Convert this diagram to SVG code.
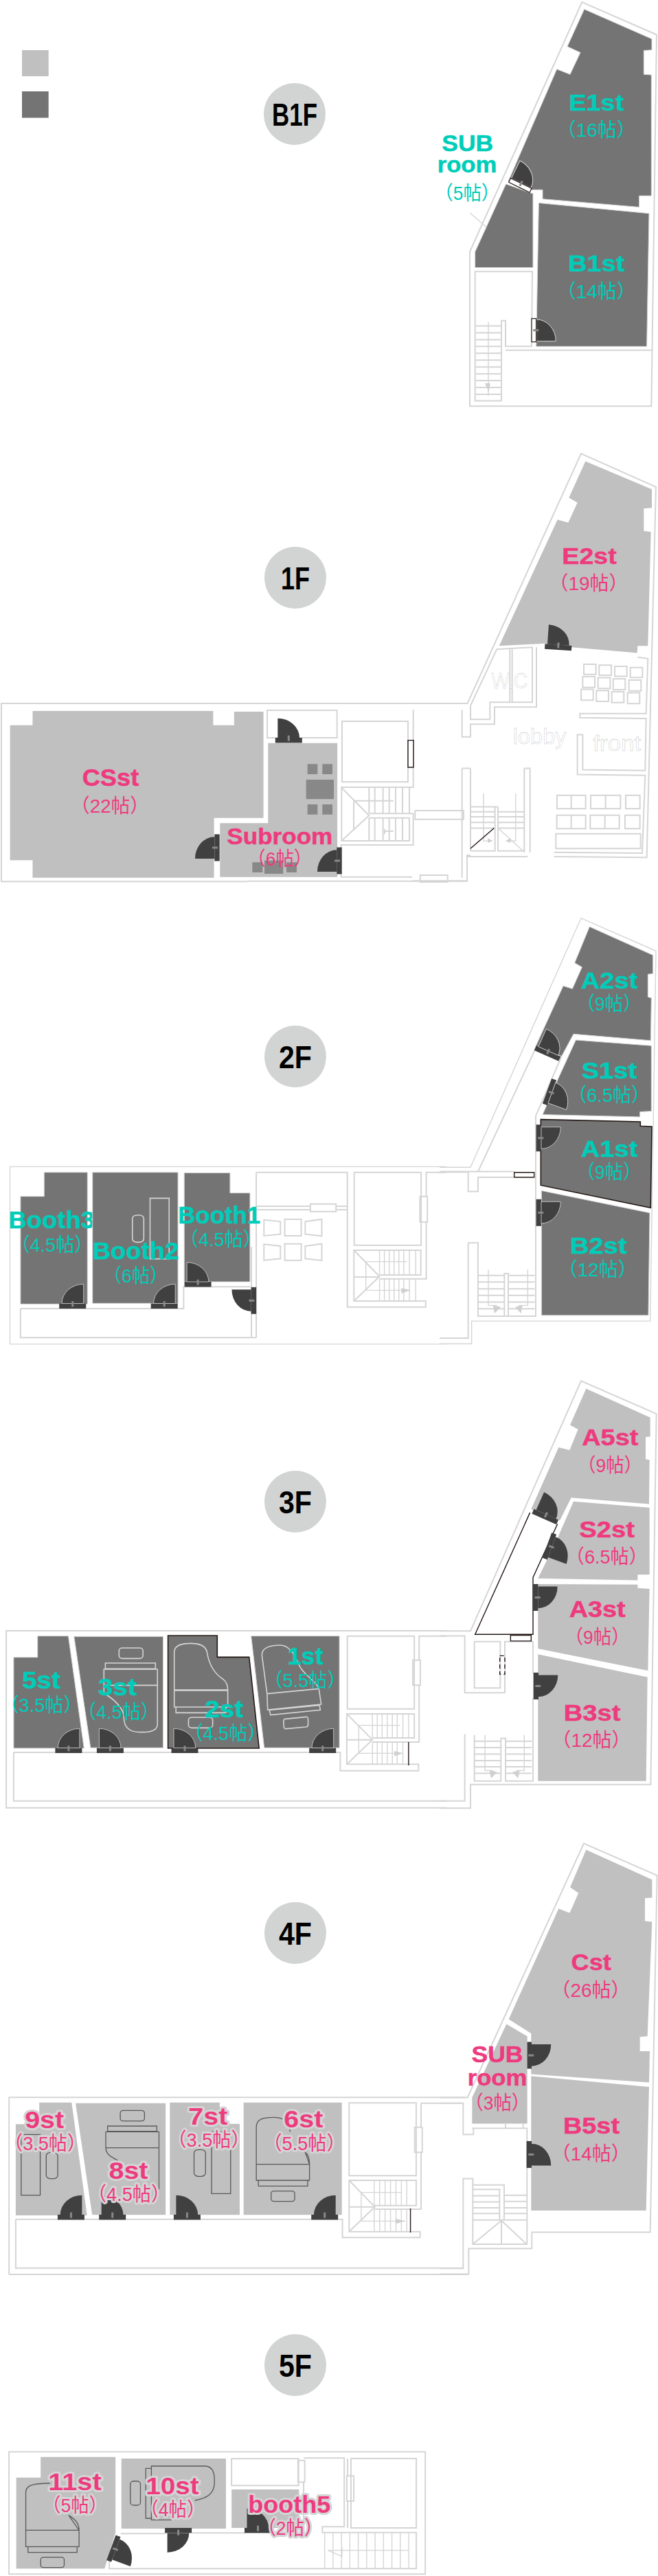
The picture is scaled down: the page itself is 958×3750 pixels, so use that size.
<svg xmlns="http://www.w3.org/2000/svg" width="958" height="3750" viewBox="0 0 958 3750">
<style>
.z1{transform:translate(600px,0px) scale(.33333,.38265)}
.z3{transform:translate(600px,650px) scale(.33333,.41454)}
.z4{transform:translate(0px,1000px) scale(.39541,.33333)}
.z5{transform:translate(640px,1320px) scale(.33333,.41454)}
.z6{transform:translate(0px,1680px) scale(.41454,.33333)}
.z7{transform:translate(640px,2000px) scale(.33333,.41454)}
.z8{transform:translate(0px,2350px) scale(.41454,.33333)}
.z9{transform:translate(640px,2670px) scale(.33333,.41454)}
.z10{transform:translate(0px,3020px) scale(.44005,.33333)}
.z11{transform:translate(0px,3540px) scale(.40816,.33333)}
.z12{transform:translate(360px,950px) scale(.33333,.33333)}
.w,.wt,.f,.g,.k,.kw{vector-effect:non-scaling-stroke}
.w{fill:none;stroke:#d5d5d5;stroke-width:2}
.wt{fill:none;stroke:#d5d5d5;stroke-width:1.4}
.L{fill:#c0c0c0}
.D{fill:#747474;stroke:#d5d5d5;stroke-width:1;vector-effect:non-scaling-stroke}
.F{fill:#747474;stroke:#231815;stroke-width:1.6;vector-effect:non-scaling-stroke}
.f{fill:none;stroke:#d5d5d5;stroke-width:1.6}
.g{fill:none;stroke:#595959;stroke-width:1.3}
.c{fill:#888}
.k{fill:none;stroke:#231815;stroke-width:1.4}
.kw{fill:#fff;stroke:#231815;stroke-width:1.4}
.a{fill:#d0d0d0}
text{font-family:"Liberation Sans","Noto Sans CJK JP",sans-serif;text-anchor:middle}
.b{font-weight:700;font-size:33px}
.bn{font-weight:700;font-size:35px}
.s{font-size:28px}
.P{fill:#ee3a7e}
.T{fill:#00cdb9}
.b.P,.bn.P{stroke:#ee3a7e;stroke-width:.5px}
.b.T,.bn.T{stroke:#00cdb9;stroke-width:.5px}
.H.H.H{stroke:#d4d4d4;stroke-width:6px;paint-order:stroke;stroke-linejoin:round}
.fl{fill:#d2d4d3}
.ft{font-weight:700;font-size:47px;fill:#000}
.thin{font-size:31px;fill:#fff;stroke:#b8b8b8;stroke-width:.35px}
</style>
<defs>
<g id="door"><rect x="-19.5" y="-3.7" width="39" height="7.4" fill="#404040"/><path d="M-16,-3.7V-32A31.7,28.3 0 0 1 15.7,-3.7Z" fill="#404040"/><rect x="-1.5" y="-7" width="3" height="8" fill="#888"/></g>
<g id="doorD"><rect x="-19.5" y="-3.7" width="39" height="7.4" fill="#404040"/><path d="M-16,-3.7V-32A31.7,28.3 0 0 1 15.7,-3.7Z" fill="#404040" stroke="#d5d5d5" stroke-width=".8"/><rect x="-1.5" y="-7" width="3" height="8" fill="#888"/></g>
<g id="doorW"><path d="M-16,-3.7V-32A31.7,28.3 0 0 1 15.7,-3.7Z" fill="#404040" stroke="#d5d5d5" stroke-width="1"/><rect x="-17" y="-3.3" width="34" height="6.6" fill="#fff" stroke="#231815" stroke-width="1.2"/><rect x="-1.5" y="-7" width="3" height="8" fill="#888"/></g>
</defs>
<rect width="958" height="3750" fill="#fff"/>

<g id="legend"><rect x="32" y="73" width="38.7" height="38" class="L"/><rect x="32" y="133" width="38.7" height="38.5" fill="#747474"/></g>

<g id="floor-b1">
<circle cx="429" cy="166" r="45" class="fl"/><text x="429" y="183" class="ft" textLength="66" lengthAdjust="spacingAndGlyphs">B1F</text>
<g id="walls-b1">
<polygon class="w z1" points="742,8 1068,132 1045,1545 252,1545 252,958"/>
<polygon class="w z1" points="275,1033 525,1033 522,1318 408,1318 408,1220 390,1220 390,1525 275,1525"/>
<path class="w z1" d="M408,1332H1047M278,1240H388M278,1266H388M278,1292H388M278,1318H388M278,1344H388M278,1370H388M278,1396H388M278,1422H388M278,1448H388M278,1474H388M278,1500H388"/>
<path class="wt z1" d="M333,1225V1505M253,810L425,940"/>
<polygon class="a z1" points="318,1458 342,1458 334,1490"/>
</g>
<g id="E1st"><polygon class="D z1" points="752,35 1047,148 1047,190 1012,192 1012,283 1045,285 1045,745 992,745 992,788 570,757 570,722 522,722 420,690 632,263 690,283 735,200 678,177"/><text x="868.3" y="160.7" class="b T" textLength="80" lengthAdjust="spacingAndGlyphs">E1st</text><text x="868.3" y="199" class="s T" textLength="115" lengthAdjust="spacingAndGlyphs">（16帖）</text></g>
<g id="SUBroom-b1"><polygon class="D z1" points="410,700 520,735 528,735 528,1018 275,1018 275,958"/><use href="#doorW" transform="translate(757.3 269.8) rotate(26)"/><text x="680.7" y="220" class="b T" textLength="75" lengthAdjust="spacingAndGlyphs">SUB</text><text x="680" y="250.7" class="b T" textLength="86.7" lengthAdjust="spacingAndGlyphs">room</text><text x="680.3" y="290.8" class="s T" textLength="94" lengthAdjust="spacingAndGlyphs">（5帖）</text></g>
<g id="B1st"><polygon class="D z1" points="553,772 1035,812 1025,1318 542,1318"/><use href="#doorW" transform="translate(777.3 480.7) rotate(90) scale(-1 1)"/><text x="868.3" y="395" class="b T" textLength="82" lengthAdjust="spacingAndGlyphs">B1st</text><text x="868.3" y="434.4" class="s T" textLength="115" lengthAdjust="spacingAndGlyphs">（14帖）</text></g>
</g>

<g id="floor-1">
<circle cx="430" cy="841" r="45" class="fl"/><text x="430" y="858" class="ft" textLength="42" lengthAdjust="spacingAndGlyphs">1F</text>
<g id="walls-1">
<polyline class="w z3" points="240,905 738,25 1065,142 1025,1443 620,1440"/>
<path class="w z3" d="M505,1440H245V1437M240,1437V1525H0"/>
<polyline class="w z3" points="543,705 543,915 360,915 360,975 255,975 255,1020 218,1020 218,925"/>
<polygon class="w z3" points="255,910 370,712 525,705 525,898 340,898 340,958 255,958"/>
<path class="w z3" d="M427,712V898M437,712V898"/>
<polyline class="w z3" points="985,740 1030,745 1022,938 733,938 733,952 1022,955 1018,1138 745,1135 745,1012 722,1012 722,1152 1018,1155 1005,1428 620,1425"/>
<g class="seats"><path class="w z3" d="M750,765h53v35h-53zM817,768h53v35h-53zM885,772h53v35h-53zM953,776h53v35h-53zM745,808h53v38h-53zM812,812h53v38h-53zM878,816h53v38h-53zM947,820h53v38h-53zM738,853h53v38h-53zM805,857h53v38h-53zM872,861h53v38h-53zM941,865h53v38h-53z"/>
<path class="w z3" d="M633,1225h125v47h-125zM695,1225v47M780,1225h130v47h-130zM845,1225v47M933,1225h62v47h-62zM632,1295h126v47h-126zM695,1295v47M778,1295h127v47h-127zM842,1295v47M930,1295h65v47h-65zM628,1360h370v52h-370z"/></g>
<path class="w z3" d="M255,1130V1420M218,1130H255M218,1130V1515M490,1130H515V1425M490,1130V1425M255,1265H362M255,1283H362M255,1300H362M255,1320H362M255,1340H362M362,1265V1420H255M375,1265V1420H490M375,1283H488M375,1300H488M375,1320H488M375,1340H488M362,1265H375"/>
<path class="wt z3" d="M312,1218V1385H350M452,1218V1385H420M375,1340L485,1420"/>
<path class="a z3" d="M330,1375L352,1385L330,1392ZM430,1375L408,1385L430,1392Z"/>
<path class="k z3" d="M255,1412L358,1340"/>
<polyline class="w z4" points="910,72 5,72 5,850 910,850"/>
<path class="w z12" d="M0,222H960M0,998H960V885H975"/>
<rect class="w z12" x="87" y="252" width="305" height="120"/>
<rect class="w z12" x="414" y="300" width="288" height="265"/>
<path class="w z12" d="M725,250V588H412V822H708V722H532M412,590L532,712L412,822M465,650V770M725,703H532M725,703V840H410V980H720M708,590V700M532,590V703M557,590V703M593,590V703M620,590V703M648,590V703M678,590V703M532,722V822M557,722V822M593,722V822M620,722V822M648,722V822M678,722V822M465,647H638M600,780H638M600,770V793"/>
<rect class="w z12" x="755" y="972" width="120" height="30"/>
<rect class="w z12" x="733" y="690" width="212" height="38"/>
<rect class="kw z12" x="702" y="383" width="24" height="118"/>
<text x="741.7" y="1001.6" class="thin" textLength="53" lengthAdjust="spacingAndGlyphs">W.C</text>
<text x="785.7" y="1083.2" class="thin" textLength="78" lengthAdjust="spacingAndGlyphs">lobby</text>
<text x="898.3" y="1092.8" class="thin" textLength="70" lengthAdjust="spacingAndGlyphs">front</text>
</g>
<g id="E2st"><polygon class="L z3" points="757,52 1047,150 1047,215 1012,218 1012,297 1043,300 1030,700 985,700 983,725 697,705 580,692 380,700 635,257 682,267 722,197 685,180"/><use href="#door" transform="translate(812.7 942.3) rotate(4)"/><text x="858" y="820.8" class="b P" textLength="79.3" lengthAdjust="spacingAndGlyphs">E2st</text><text x="857" y="859.4" class="s P" textLength="115" lengthAdjust="spacingAndGlyphs">（19帖）</text></g>
<g id="CSst"><polygon class="L z4" points="120,105 785,105 785,167 862,167 862,108 970,108 970,572 788,572 788,833 120,833 120,757 37,757 37,167 120,167"/><use href="#door" transform="translate(316 1234) rotate(-90)"/><text x="161" y="1144" class="bn P" textLength="82.6" lengthAdjust="spacingAndGlyphs">CSst</text><text x="160" y="1182.7" class="s P" textLength="114" lengthAdjust="spacingAndGlyphs">（22帖）</text></g>
<g id="Subroom"><polygon class="L z4" points="987,245 1242,245 1242,830 810,830 810,595 987,595"/><path class="c z12" d="M263,487h44v44h-44zM328,487h44v44h-44zM257,555h121v85h-121zM263,663h44v44h-44zM328,663h44v44h-44zM22,916h45v44h-45zM75,908h82v58h-82zM171,916h45v44h-45z"/><use href="#door" transform="translate(420.3 1077.7)"/><use href="#door" transform="translate(494 1253) rotate(-90)"/><text x="407.3" y="1229.3" class="b P" textLength="154" lengthAdjust="spacingAndGlyphs">Subroom</text><text x="407.3" y="1260" class="s P" textLength="94" lengthAdjust="spacingAndGlyphs">（6帖）</text></g>
</g>

<g id="floor-2">
<circle cx="430" cy="1538" r="45" class="fl"/><text x="430" y="1555" class="ft" textLength="48" lengthAdjust="spacingAndGlyphs">2F</text>
<g id="walls-2">
<polyline class="wt z5" points="0,915 135,915 618,40 945,155 920,1455 140,1455 140,1535 0,1535"/>
<path class="w z5" d="M415,505L168,930H0M533,525L420,735V1440M0,932H125V1000H168V950H325M168,930H325M413,950H420M125,1180H168V1440M125,1180V1515H0M168,1438H420M283,1438V1288H300V1438"/>
<path class="w z5" d="M168,1295H283M168,1318H283M168,1342H283M168,1365H283M168,1388H283M168,1412H283M300,1295H415M300,1318H415M300,1342H415M300,1365H415M300,1388H415M300,1412H415"/>
<path class="wt z5" d="M213,1275V1400H250M385,1275V1400H345"/>
<path class="a z5" d="M233,1400L268,1405L240,1428ZM362,1400L330,1405L355,1428Z"/>
<rect class="kw z5" x="326" y="933" width="87" height="17"/>
<polyline class="wt z6" points="1568,55 35,55 35,830 1568,830"/>
<path class="w z6" d="M72,675H645V580H880M72,675V802H900M900,80H1220V668H1495V642H1243V420H1478V528H1333M900,80V802M883,405V800M900,228H1090M900,243H1090M1180,228H1218M1180,243H1218M1243,420L1333,535L1243,642M1243,537H1333M1568,80H1497V185M1497,297V545H1333"/>
<rect class="w z6" x="1090" y="218" width="90" height="33"/>
<rect class="w z6" x="1244" y="80" width="235" height="318"/>
<rect class="w z6" x="1475" y="185" width="26" height="112"/>
<path class="w z6" d="M927,287L985,295V350L927,357ZM1000,285H1058V357H1000ZM1072,295L1130,285V358L1072,350ZM927,394L985,402V457L927,464ZM1000,392H1058V464H1000ZM1072,402L1130,392V465L1072,457Z"/>
<path class="wt z6" d="M1333,420V528M1350,420V528M1367,420V528M1384,420V528M1401,420V528M1418,420V528M1438,420V528M1460,420V528M1333,545V642M1350,545V642M1367,545V642M1384,545V642M1401,545V642M1418,545V642M1438,545V642M1460,545V642M1285,470H1430M1285,470V595H1440"/>
<path class="a z6" d="M1410,585L1442,595L1410,608Z"/>
</g>
<g id="A2st"><polygon class="D z5" points="655,70 932,170 932,235 910,237 910,317 925,320 922,470 585,447 533,525 420,490 540,278 580,288 622,212 590,197"/><use href="#doorD" transform="translate(797 1533.5) rotate(24)"/><text x="887" y="1439" class="b T" textLength="82.7" lengthAdjust="spacingAndGlyphs">A2st</text><text x="886.7" y="1471.3" class="s T" textLength="94" lengthAdjust="spacingAndGlyphs">（9帖）</text></g>
<g id="S1st"><polygon class="D z5" points="595,468 925,488 925,718 875,720 875,738 450,730 520,600"/><use href="#doorD" transform="translate(800 1589.5) rotate(110) scale(-1 1)"/><text x="887" y="1570" class="b T" textLength="80.7" lengthAdjust="spacingAndGlyphs">S1st</text><text x="886.7" y="1604" class="s T" textLength="119" lengthAdjust="spacingAndGlyphs">（6.5帖）</text></g>
<g id="A1st"><polygon class="F z5" points="442,747 877,755 877,770 927,772 922,1057 442,978"/><use href="#doorD" transform="translate(784.3 1656.7) rotate(90)"/><text x="887" y="1683.6" class="b T" textLength="82.7" lengthAdjust="spacingAndGlyphs">A1st</text><text x="886.7" y="1715.9" class="s T" textLength="94" lengthAdjust="spacingAndGlyphs">（9帖）</text></g>
<g id="B2st"><polygon class="D z5" points="445,997 918,1075 912,1435 445,1435"/><use href="#doorD" transform="translate(784.3 1765.3) rotate(90)"/><text x="871.3" y="1824.5" class="b T" textLength="82.7" lengthAdjust="spacingAndGlyphs">B2st</text><text x="870.3" y="1857.7" class="s T" textLength="115" lengthAdjust="spacingAndGlyphs">（12帖）</text></g>
<g id="Booth3"><polygon class="D z6" points="155,80 307,80 307,655 72,655 72,185 155,185"/><use href="#doorD" transform="translate(105.7 1901.3) scale(-1 1)"/><text x="75.2" y="1788.3" class="bn T" textLength="125.6" lengthAdjust="spacingAndGlyphs">Booth3</text><text x="75.9" y="1821.7" class="s T" textLength="119" lengthAdjust="spacingAndGlyphs">（4.5帖）</text></g>
<g id="Booth2"><polygon class="D z6" points="325,80 625,80 625,652 325,652"/><rect class="f z6" x="527" y="193" width="67" height="265"/><rect class="f z6" x="465" y="267" width="40" height="118" rx="15"/><use href="#doorD" transform="translate(239.2 1901.3) scale(-1 1)"/><text x="197.5" y="1833.3" class="bn T" textLength="125.6" lengthAdjust="spacingAndGlyphs">Booth2</text><text x="197.5" y="1866.7" class="s T" textLength="94" lengthAdjust="spacingAndGlyphs">（6帖）</text></g>
<g id="Booth1"><polygon class="D z6" points="647,82 808,82 808,170 878,170 878,558 647,558"/><use href="#doorD" transform="translate(288.1 1869.7)"/><use href="#door" transform="translate(369.4 1893.3) rotate(-90) scale(-1 1)"/><text x="319.2" y="1781" class="bn T" textLength="120" lengthAdjust="spacingAndGlyphs">Booth1</text><text x="321.3" y="1814.3" class="s T" textLength="119" lengthAdjust="spacingAndGlyphs">（4.5帖）</text></g>
</g>

<g id="floor-3">
<circle cx="430" cy="2186" r="45" class="fl"/><text x="430" y="2203" class="ft" textLength="48" lengthAdjust="spacingAndGlyphs">3F</text>
<g id="walls-3">
<polyline class="w z7" points="0,903 135,903 618,25 947,140 922,1442 135,1442 135,1525 0,1525"/>
<path class="w z7" d="M0,920H110V1120H285V940H408V1050M408,1140V1430H288V1280H268V1430H152V1268M110,1265V1500H0"/>
<rect class="w z7" x="152" y="940" width="113" height="163"/>
<path class="w z7" d="M152,1290H268M152,1312H268M152,1335H268M152,1358H268M152,1380H268M152,1403H268M288,1290H402M288,1312H402M288,1335H402M288,1358H402M288,1380H402M288,1403H402"/>
<path class="wt z7" d="M198,1268V1393H235M370,1268V1393H335"/>
<path class="a z7" d="M218,1393L252,1398L225,1420ZM350,1393L318,1398L343,1420Z"/>
<polyline class="k z7" points="515,527 408,715 408,915 155,915 395,487"/>
<rect class="kw z7" x="310" y="918" width="90" height="20"/>
<rect class="k z7" x="263" y="990" width="22" height="65" stroke-dasharray="6 4"/>
<polyline class="w z8" points="1568,72 22,72 22,845 1568,845"/>
<path class="w z8" d="M48,603H1195V683H1470V655H1218V435H1455V540H1308M48,603V815H1568M1568,95H1472V200M1472,310V558H1308M1218,435L1308,548L1218,655M1218,548H1308"/>
<rect class="w z8" x="1220" y="95" width="235" height="318"/>
<rect class="w z8" x="1450" y="200" width="26" height="110"/>
<path class="wt z8" d="M1308,435V540M1325,435V540M1342,435V540M1360,435V540M1378,435V540M1395,435V540M1415,435V540M1435,435V540M1308,558V655M1325,558V655M1342,558V655M1360,558V655M1378,558V655M1395,558V655M1415,558V655M1260,485H1405M1260,485V607H1415"/>
<path class="a z8" d="M1385,597L1415,607L1385,620Z"/>
<path class="k z8" d="M1435,558V660"/>
</g>
<g id="A5st"><polygon class="L z7" points="640,52 920,153 920,220 900,222 900,300 917,302 915,457 575,435 525,515 400,475 520,258 568,268 605,195 570,180"/><use href="#door" transform="translate(793.7 2208) rotate(24)"/><text x="888.3" y="2103.6" class="b P" textLength="82" lengthAdjust="spacingAndGlyphs">A5st</text><text x="888" y="2143" class="s P" textLength="94" lengthAdjust="spacingAndGlyphs">（9帖）</text></g>
<g id="S2st"><polygon class="L z7" points="585,448 917,470 917,705 865,705 865,725 430,718 505,595"/><use href="#door" transform="translate(800 2250.8) rotate(110) scale(-1 1)"/><text x="883.7" y="2237.5" class="b P" textLength="80.7" lengthAdjust="spacingAndGlyphs">S2st</text><text x="883.3" y="2275.7" class="s P" textLength="119" lengthAdjust="spacingAndGlyphs">（6.5帖）</text></g>
<g id="A3st"><polygon class="L z7" points="430,738 865,740 865,752 917,755 910,1042 430,965"/><use href="#door" transform="translate(779.7 2325.5) rotate(90)"/><text x="869.7" y="2354.4" class="b P" textLength="82" lengthAdjust="spacingAndGlyphs">A3st</text><text x="869.7" y="2392.6" class="s P" textLength="94" lengthAdjust="spacingAndGlyphs">（9帖）</text></g>
<g id="B3st"><polygon class="L z7" points="430,985 908,1065 902,1430 430,1430"/><use href="#door" transform="translate(780.3 2454.4) rotate(90)"/><text x="862" y="2504.5" class="b P" textLength="82.7" lengthAdjust="spacingAndGlyphs">B3st</text><text x="861" y="2543" class="s P" textLength="115" lengthAdjust="spacingAndGlyphs">（12帖）</text></g>
<g id="r5st"><polygon class="D z8" points="132,95 240,95 295,585 48,585 48,188 132,188"/><use href="#doorD" transform="translate(99.9 2548.3) scale(-1 1)"/><text x="60" y="2458.3" class="bn T" textLength="55.5" lengthAdjust="spacingAndGlyphs">5st</text><text x="60" y="2491.7" class="s T" textLength="119" lengthAdjust="spacingAndGlyphs">（3.5帖）</text></g>
<g id="r3st"><polygon class="D z8" points="260,97 573,97 573,583 318,583"/><rect class="f z8" x="418" y="147" width="84" height="46" rx="12"/><rect class="f z8" x="370" y="213" width="176" height="25"/><path class="f z8" d="M365,240H553V310H365ZM553,310V480C553,505 530,515 500,515C470,515 435,510 435,450C435,410 400,370 365,345V310"/><use href="#doorD" transform="translate(160.4 2548.3)"/><text x="170.8" y="2468.3" class="bn T" textLength="56" lengthAdjust="spacingAndGlyphs">3st</text><text x="172.4" y="2501.7" class="s T" textLength="119" lengthAdjust="spacingAndGlyphs">（4.5帖）</text></g>
<g id="r2st"><polygon class="F z8" points="590,93 763,93 763,187 875,187 910,585 590,585"/><path class="f z8" d="M612,330V165C612,135 640,127 670,127C700,127 722,135 727,165C735,230 760,265 785,285C797,297 800,310 800,330ZM612,333H800V405H612ZM618,405H793V430H618Z"/><rect class="f z8" x="662" y="450" width="85" height="46" rx="12"/><use href="#doorD" transform="translate(269 2548.3)"/><text x="326.2" y="2500" class="bn T" textLength="56" lengthAdjust="spacingAndGlyphs">2st</text><text x="327.9" y="2533.3" class="s T" textLength="119" lengthAdjust="spacingAndGlyphs">（4.5帖）</text></g>
<g id="r1st"><polygon class="D z8" points="882,95 1192,95 1192,583 928,583"/><path class="f z8" d="M938,347L920,180C918,145 950,135 985,135C1020,135 1040,190 1050,220C1060,260 1110,290 1120,325ZM938,347L1120,325L1128,393L940,417ZM946,418L1122,397L1125,418L950,440ZM1002,457L1075,448Q1082,447 1082,460L1082,480Q1083,490 1075,492L1005,500Q997,500 997,490L996,468Q996,458 1002,457Z"/><use href="#doorD" transform="translate(469.7 2548.3) scale(-1 1)"/><text x="444.4" y="2422.7" class="bn T" textLength="52" lengthAdjust="spacingAndGlyphs">1st</text><text x="444" y="2456" class="s T" textLength="119" lengthAdjust="spacingAndGlyphs">（5.5帖）</text></g>
</g>

<g id="floor-4">
<circle cx="430" cy="2814" r="45" class="fl"/><text x="430" y="2831" class="ft" textLength="48" lengthAdjust="spacingAndGlyphs">4F</text>
<g id="walls-4">
<polyline class="w z9" points="0,925 122,925 630,33 950,145 920,1398 403,1398 403,1455 127,1455 127,1545 0,1545"/>
<path class="w z9" d="M0,945H103V1055H148V1033H382V1440H145V1210H103V1525H0M145,1232H282V1355M145,1248H262V1355M145,1270H262M145,1292H262M145,1312H262M145,1332H262M145,1355H380M282,1268H380M282,1290H380M282,1312H380M282,1332H380M270,1355V1440M145,1440L270,1357L380,1440M288,1018V1033M365,1018V1033M142,1033H382"/>
<polyline class="w z10" points="30,873 1550,873"/><polyline class="w z10" points="30,873 30,100 1540,100"/>
<path class="w z10" d="M52,632H1133V712H1390V686H1155V462H1377V572H1238M52,632V845H1533M1393,125H1533M1393,125V230M1393,340V588H1238M1155,462L1240,578L1155,686M1155,578H1238"/>
<rect class="w z10" x="1155" y="124" width="222" height="318"/>
<rect class="w z10" x="1372" y="230" width="25" height="110"/>
<path class="wt z10" d="M1238,462V572M1256,462V572M1274,462V572M1292,462V572M1310,462V572M1328,462V572M1346,462V572M1238,588V686M1256,588V686M1274,588V686M1292,588V686M1310,588V686M1328,588V686M1346,588V686M1195,515H1330M1195,515V640H1340"/>
<path class="a z10" d="M1310,630L1342,640L1310,652Z"/>
<path class="k z10" d="M1358,585V690"/>
</g>
<g id="Cst"><polygon class="L z9" points="640,55 928,160 928,223 897,225 897,305 928,308 908,710 875,712 875,762 918,762 915,872 400,843 400,700 302,650 520,262 568,277 607,207 570,187"/><use href="#door" transform="translate(770.3 2992) rotate(90)"/><text x="860.7" y="2867.7" class="b P" textLength="58.3" lengthAdjust="spacingAndGlyphs">Cst</text><text x="860" y="2907" class="s P" textLength="115" lengthAdjust="spacingAndGlyphs">（26帖）</text></g>
<g id="SUBroom-4"><polygon class="L z9" points="292,667 383,710 383,1017 142,1017 142,925"/><text x="724" y="3001.7" class="b P" textLength="75" lengthAdjust="spacingAndGlyphs">SUB</text><text x="724" y="3035.7" class="b P" textLength="86.7" lengthAdjust="spacingAndGlyphs">room</text><text x="724.3" y="3071.3" class="s P" textLength="94" lengthAdjust="spacingAndGlyphs">（3帖）</text></g>
<g id="B5st"><polygon class="L z9" points="400,850 915,888 902,1322 400,1322"/><use href="#door" transform="translate(770.3 3136.4) rotate(90) scale(-1 1)"/><text x="861" y="3106" class="b P" textLength="82" lengthAdjust="spacingAndGlyphs">B5st</text><text x="860.3" y="3144.7" class="s P" textLength="115" lengthAdjust="spacingAndGlyphs">（14帖）</text></g>
<g id="r9st"><polygon class="L z10" points="130,122 237,122 288,615 52,615 52,217 130,217"/><rect class="g z10" x="70" y="262" width="63" height="265"/><rect class="g z10" x="153" y="340" width="38" height="115" rx="15"/><use href="#door" transform="translate(103.4 3227.7) scale(-1 1)"/><text x="64.7" y="3097.7" class="bn P H" textLength="57" lengthAdjust="spacingAndGlyphs">9st</text><text x="65.6" y="3130" class="s P H" textLength="119" lengthAdjust="spacingAndGlyphs">（3.5帖）</text></g>
<g id="r8st"><polygon class="L z10" points="250,125 548,125 548,613 305,613"/><rect class="g z10" x="398" y="157" width="80" height="46" rx="10"/><rect class="g z10" x="356" y="225" width="163" height="23"/><path class="g z10" d="M350,250H526V320H350ZM526,320V500M350,320C350,345 365,360 390,375"/><use href="#door" transform="translate(163.7 3227.7)"/><text x="187" y="3171.7" class="bn P H" textLength="57" lengthAdjust="spacingAndGlyphs">8st</text><text x="187.5" y="3204.3" class="s P H" textLength="119" lengthAdjust="spacingAndGlyphs">（4.5帖）</text></g>
<g id="r7st"><polygon class="L z10" points="562,122 727,122 727,215 793,215 793,613 562,613"/><rect class="g z10" x="700" y="250" width="63" height="270"/><rect class="g z10" x="642" y="328" width="38" height="117" rx="15"/><use href="#door" transform="translate(272.4 3227.7)"/><text x="302.8" y="3093.3" class="bn P H" textLength="57" lengthAdjust="spacingAndGlyphs">7st</text><text x="304" y="3125" class="s P H" textLength="119" lengthAdjust="spacingAndGlyphs">（3.5帖）</text></g>
<g id="r6st"><polygon class="L z10" points="806,122 1131,122 1131,613 806,613"/><path class="g z10" d="M848,392V230C848,195 870,187 905,187C935,187 955,200 960,250M1010,340C1020,350 1024,365 1024,392ZM848,392H1024V462H848ZM855,462H1018V487H855Z"/><rect class="g z10" x="897" y="509" width="78" height="45" rx="10"/><use href="#door" transform="translate(472.7 3227.7) scale(-1 1)"/><text x="441.8" y="3097.3" class="bn P H" textLength="57" lengthAdjust="spacingAndGlyphs">6st</text><text x="443" y="3130" class="s P H" textLength="119" lengthAdjust="spacingAndGlyphs">（5.5帖）</text></g>
</g>

<g id="floor-5">
<circle cx="430" cy="3443" r="45" class="fl"/><text x="430" y="3460" class="ft" textLength="48" lengthAdjust="spacingAndGlyphs">5F</text>
<g id="walls-5">
<rect class="w z11" x="32" y="88" width="1485" height="534"/>
<path class="w z11" d="M826,118H1065V235H826ZM1083,115H1228V415H1150V440H1485V598H390V500M430,445H590M684,442H875M1065,252V420M1083,220V415M1240,117V193M1240,303V420"/>
<rect class="w z11" x="1252" y="117" width="233" height="303"/>
<rect class="w z11" x="1063" y="125" width="24" height="95"/>
<rect class="w z11" x="1237" y="193" width="25" height="110"/>
<path class="wt z11" d="M1158,440V598M1188,440V598M1218,440V598M1248,440V598M1278,440V598M1308,440V598M1338,440V598M1368,440V598M1398,440V598M1428,440V598M1458,440V598M1170,518H1458"/>
<path class="wt z11" d="M1170,518L1220,545V505"/>
</g>
<g id="r11st"><polygon class="L z11" points="145,110 412,110 412,440 373,598 58,598 58,200 145,200"/><path class="g z11" d="M92,430V265C92,235 115,225 178,225M245,365C270,385 282,400 282,430ZM92,430H282V502H92ZM100,502H275V527H100Z"/><rect class="g z11" x="145" y="548" width="84" height="45" rx="10"/><use href="#door" transform="translate(165.3 3710) rotate(110) scale(-1 1)"/><text x="109" y="3625" class="bn P H" textLength="77.5" lengthAdjust="spacingAndGlyphs">11st</text><text x="109" y="3657.3" class="s P H" textLength="94" lengthAdjust="spacingAndGlyphs">（5帖）</text></g>
<g id="r10st"><rect class="L z11" x="433" y="117" width="373" height="306"/><rect class="g z11" x="465" y="216" width="36" height="105" rx="12"/><path class="g z11" d="M540,160H520V378H540M612,385H540V150H730C755,150 765,175 765,210C768,270 740,290 695,300"/><use href="#door" transform="translate(259.6 3683.7) rotate(180) scale(-1 1)"/><text x="251" y="3630.7" class="bn P H" textLength="77.5" lengthAdjust="spacingAndGlyphs">10st</text><text x="251.4" y="3663.3" class="s P H" textLength="94" lengthAdjust="spacingAndGlyphs">（4帖）</text></g>
<g id="booth5"><rect class="L z11" x="826" y="252" width="239" height="168"/><use href="#door" transform="translate(375.5 3683.7)"/><text x="421.2" y="3658.3" class="bn P H" textLength="120" lengthAdjust="spacingAndGlyphs">booth5</text><text x="422.4" y="3690" class="s P H" textLength="94" lengthAdjust="spacingAndGlyphs">（2帖）</text></g>
</g>
</svg>
